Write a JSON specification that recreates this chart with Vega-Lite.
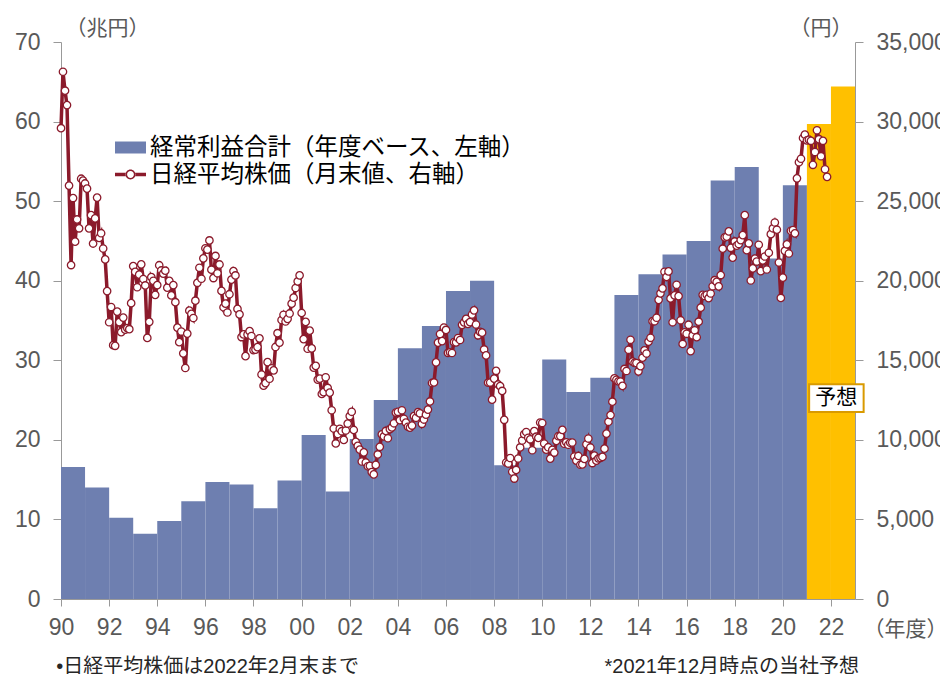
{
"$schema": "https://vega.github.io/schema/vega-lite/v6.json",
"width": 794, "height": 557,
"autosize": {"type": "none"},
"padding": {"left": 61, "top": 42, "right": 85, "bottom": 75},
"background": "white",
"config": {"view": {"stroke": null}, "font": "Liberation Sans, Noto Sans CJK JP", "axis": {"grid": false}},
"layer": [
{
"layer": [
{
"data": {"values": [
{"s":"1990-04","e":"1991-04","p":16.6,"k":"実績"},
{"s":"1991-04","e":"1992-04","p":14.0,"k":"実績"},
{"s":"1992-04","e":"1993-04","p":10.2,"k":"実績"},
{"s":"1993-04","e":"1994-04","p":8.2,"k":"実績"},
{"s":"1994-04","e":"1995-04","p":9.8,"k":"実績"},
{"s":"1995-04","e":"1996-04","p":12.3,"k":"実績"},
{"s":"1996-04","e":"1997-04","p":14.7,"k":"実績"},
{"s":"1997-04","e":"1998-04","p":14.4,"k":"実績"},
{"s":"1998-04","e":"1999-04","p":11.4,"k":"実績"},
{"s":"1999-04","e":"2000-04","p":14.9,"k":"実績"},
{"s":"2000-04","e":"2001-04","p":20.6,"k":"実績"},
{"s":"2001-04","e":"2002-04","p":13.5,"k":"実績"},
{"s":"2002-04","e":"2003-04","p":20.1,"k":"実績"},
{"s":"2003-04","e":"2004-04","p":25.0,"k":"実績"},
{"s":"2004-04","e":"2005-04","p":31.5,"k":"実績"},
{"s":"2005-04","e":"2006-04","p":34.3,"k":"実績"},
{"s":"2006-04","e":"2007-04","p":38.7,"k":"実績"},
{"s":"2007-04","e":"2008-04","p":40.0,"k":"実績"},
{"s":"2008-04","e":"2009-04","p":16.8,"k":"実績"},
{"s":"2009-04","e":"2010-04","p":19.0,"k":"実績"},
{"s":"2010-04","e":"2011-04","p":30.1,"k":"実績"},
{"s":"2011-04","e":"2012-04","p":26.0,"k":"実績"},
{"s":"2012-04","e":"2013-04","p":27.8,"k":"実績"},
{"s":"2013-04","e":"2014-04","p":38.2,"k":"実績"},
{"s":"2014-04","e":"2015-04","p":40.8,"k":"実績"},
{"s":"2015-04","e":"2016-04","p":43.3,"k":"実績"},
{"s":"2016-04","e":"2017-04","p":45.0,"k":"実績"},
{"s":"2017-04","e":"2018-04","p":52.6,"k":"実績"},
{"s":"2018-04","e":"2019-04","p":54.3,"k":"実績"},
{"s":"2019-04","e":"2020-04","p":42.8,"k":"実績"},
{"s":"2020-04","e":"2021-04","p":52.0,"k":"実績"},
{"s":"2021-04","e":"2022-04","p":59.7,"k":"予想"},
{"s":"2022-04","e":"2023-04","p":64.4,"k":"予想"}
], "format": {"parse": {"s": "utc:'%Y-%m'", "e": "utc:'%Y-%m'"}}},
"mark": {"type": "rect", "strokeWidth": 0},
"encoding": {
"x": {"field": "s", "type": "temporal",
 "scale": {"type": "utc", "domain": [{"year":1990,"month":4,"date":1,"utc":true},{"year":2023,"month":4,"date":1,"utc":true}]},
 "axis": {"values": [
 {"year":1990,"month":4,"date":1,"utc":true},{"year":1991,"month":4,"date":1,"utc":true},{"year":1992,"month":4,"date":1,"utc":true},{"year":1993,"month":4,"date":1,"utc":true},{"year":1994,"month":4,"date":1,"utc":true},{"year":1995,"month":4,"date":1,"utc":true},{"year":1996,"month":4,"date":1,"utc":true},{"year":1997,"month":4,"date":1,"utc":true},{"year":1998,"month":4,"date":1,"utc":true},{"year":1999,"month":4,"date":1,"utc":true},{"year":2000,"month":4,"date":1,"utc":true},{"year":2001,"month":4,"date":1,"utc":true},{"year":2002,"month":4,"date":1,"utc":true},{"year":2003,"month":4,"date":1,"utc":true},{"year":2004,"month":4,"date":1,"utc":true},{"year":2005,"month":4,"date":1,"utc":true},{"year":2006,"month":4,"date":1,"utc":true},{"year":2007,"month":4,"date":1,"utc":true},{"year":2008,"month":4,"date":1,"utc":true},{"year":2009,"month":4,"date":1,"utc":true},{"year":2010,"month":4,"date":1,"utc":true},{"year":2011,"month":4,"date":1,"utc":true},{"year":2012,"month":4,"date":1,"utc":true},{"year":2013,"month":4,"date":1,"utc":true},{"year":2014,"month":4,"date":1,"utc":true},{"year":2015,"month":4,"date":1,"utc":true},{"year":2016,"month":4,"date":1,"utc":true},{"year":2017,"month":4,"date":1,"utc":true},{"year":2018,"month":4,"date":1,"utc":true},{"year":2019,"month":4,"date":1,"utc":true},{"year":2020,"month":4,"date":1,"utc":true},{"year":2021,"month":4,"date":1,"utc":true},{"year":2022,"month":4,"date":1,"utc":true},{"year":2023,"month":4,"date":1,"utc":true}],
 "labelExpr": "utcyear(datum.value) % 2 == 0 ? utcFormat(datum.value, '%y') : ''",
 "labelFlush": false, "labelOverlap": false, "labelBound": false,
 "labelFontSize": 23, "labelColor": "#595959", "labelPadding": 10,
 "tickSize": 7, "tickColor": "#999999", "domainColor": "#999999",
 "title": "（年度）", "titleAngle": 0, "titleX": 802, "titleY": 30, "titleAlign": "left", "titleBaseline": "middle",
 "titleFontSize": 21, "titleFontWeight": "normal", "titleColor": "#595959", "titleFont": "Noto Sans CJK JP"}},
"x2": {"field": "e"},
"y": {"field": "p", "type": "quantitative", "scale": {"domain": [0, 70]},
 "axis": {"orient": "left", "values": [0,10,20,30,40,50,60,70],
 "labelFontSize": 23, "labelColor": "#595959", "labelPadding": 13,
 "tickSize": 8, "tickColor": "#999999", "domainColor": "#999999",
 "title": "（兆円）", "titleAngle": 0, "titleX": 4, "titleY": -14, "titleAlign": "left", "titleBaseline": "middle",
 "titleFontSize": 21, "titleFontWeight": "normal", "titleColor": "#595959", "titleFont": "Noto Sans CJK JP"}},
"y2": {"datum": 0},
"fill": {"field": "k", "type": "nominal",
 "scale": {"domain": ["実績", "予想"], "range": ["#6E7FB0", "#FFC000"]},
 "legend": {"orient": "none", "legendX": 54, "legendY": 90, "title": null, "values": ["実績"],
  "labelExpr": "'経常利益合計（年度ベース、左軸）'",
  "symbolType": "M-1,-0.387H1V0.387H-1Z", "symbolSize": 961, "symbolStrokeWidth": 0, "symbolOpacity": 1,
  "labelFontSize": 23.5, "labelColor": "#000000", "labelFont": "Noto Sans CJK JP", "labelLimit": 600, "padding": 0}}
}
},
{
"data": {"values": [{}]},
"mark": {"type": "rect", "fill": "white", "stroke": "#D99A00", "strokeWidth": 2},
"encoding": {
"x": {"datum": {"year":2021,"month":5,"date":5,"utc":true}, "type": "temporal"},
"x2": {"datum": {"year":2023,"month":8,"date":10,"utc":true}},
"y": {"datum": 27.0, "type": "quantitative", "scale": {"domain": [0, 70]}},
"y2": {"datum": 23.5}
}
},
{
"data": {"values": [{}]},
"mark": {"type": "text", "align": "center", "baseline": "middle", "fontSize": 21, "font": "Noto Sans CJK JP", "color": "#000000"},
"encoding": {
"x": {"datum": {"year":2022,"month":6,"date":20,"utc":true}, "type": "temporal"},
"y": {"datum": 25.25, "type": "quantitative", "scale": {"domain": [0, 70]}},
"text": {"value": "予想"}
}
},
{
"data": {"values": [{}]},
"mark": {"type": "text", "align": "left", "baseline": "middle", "fontSize": 20, "color": "#262626"},
"encoding": {
"x": {"datum": {"year":1990,"month":1,"date":20,"utc":true}, "type": "temporal"},
"y": {"datum": -8.6, "type": "quantitative", "scale": {"domain": [0, 70]}},
"text": {"value": "•日経平均株価は2022年2月末まで"}
}
},
{
"data": {"values": [{}]},
"mark": {"type": "text", "align": "right", "baseline": "middle", "fontSize": 20, "color": "#262626"},
"encoding": {
"x": {"datum": {"year":2023,"month":6,"date":1,"utc":true}, "type": "temporal"},
"y": {"datum": -8.6, "type": "quantitative", "scale": {"domain": [0, 70]}},
"text": {"value": "*2021年12月時点の当社予想"}
}
}
]
},
{
"data": {"values": [
{"d":"1990-04","v":29584},{"d":"1990-05","v":33131},{"d":"1990-06","v":31940},{"d":"1990-07","v":31036},{"d":"1990-08","v":25978},{"d":"1990-09","v":20984},{"d":"1990-10","v":25194},{"d":"1990-11","v":22455},{"d":"1990-12","v":23849},
{"d":"1991-01","v":23293},{"d":"1991-02","v":26409},{"d":"1991-03","v":26292},{"d":"1991-04","v":26111},{"d":"1991-05","v":25790},{"d":"1991-06","v":23291},{"d":"1991-07","v":24121},{"d":"1991-08","v":22336},{"d":"1991-09","v":23916},{"d":"1991-10","v":25222},{"d":"1991-11","v":22687},{"d":"1991-12","v":22984},
{"d":"1992-01","v":22023},{"d":"1992-02","v":21339},{"d":"1992-03","v":19346},{"d":"1992-04","v":17391},{"d":"1992-05","v":18348},{"d":"1992-06","v":15952},{"d":"1992-07","v":15910},{"d":"1992-08","v":18061},{"d":"1992-09","v":17399},{"d":"1992-10","v":16768},{"d":"1992-11","v":17684},{"d":"1992-12","v":16925},
{"d":"1993-01","v":17024},{"d":"1993-02","v":16953},{"d":"1993-03","v":18591},{"d":"1993-04","v":20919},{"d":"1993-05","v":20552},{"d":"1993-06","v":19590},{"d":"1993-07","v":20380},{"d":"1993-08","v":21027},{"d":"1993-09","v":20106},{"d":"1993-10","v":19703},{"d":"1993-11","v":16408},{"d":"1993-12","v":17417},
{"d":"1994-01","v":20229},{"d":"1994-02","v":19997},{"d":"1994-03","v":19112},{"d":"1994-04","v":19725},{"d":"1994-05","v":20974},{"d":"1994-06","v":20644},{"d":"1994-07","v":20449},{"d":"1994-08","v":20629},{"d":"1994-09","v":19564},{"d":"1994-10","v":19990},{"d":"1994-11","v":19076},{"d":"1994-12","v":19723},
{"d":"1995-01","v":18650},{"d":"1995-02","v":17053},{"d":"1995-03","v":16140},{"d":"1995-04","v":16807},{"d":"1995-05","v":15437},{"d":"1995-06","v":14517},{"d":"1995-07","v":16678},{"d":"1995-08","v":18117},{"d":"1995-09","v":17913},{"d":"1995-10","v":17655},{"d":"1995-11","v":18744},{"d":"1995-12","v":19868},
{"d":"1996-01","v":20813},{"d":"1996-02","v":20125},{"d":"1996-03","v":21407},{"d":"1996-04","v":22041},{"d":"1996-05","v":21956},{"d":"1996-06","v":22531},{"d":"1996-07","v":20693},{"d":"1996-08","v":20167},{"d":"1996-09","v":21556},{"d":"1996-10","v":20467},{"d":"1996-11","v":21020},{"d":"1996-12","v":19361},
{"d":"1997-01","v":18330},{"d":"1997-02","v":18557},{"d":"1997-03","v":18003},{"d":"1997-04","v":19151},{"d":"1997-05","v":20069},{"d":"1997-06","v":20605},{"d":"1997-07","v":20331},{"d":"1997-08","v":18229},{"d":"1997-09","v":17888},{"d":"1997-10","v":16459},{"d":"1997-11","v":16628},{"d":"1997-12","v":15259},
{"d":"1998-01","v":16628},{"d":"1998-02","v":16831},{"d":"1998-03","v":16527},{"d":"1998-04","v":15641},{"d":"1998-05","v":15671},{"d":"1998-06","v":15830},{"d":"1998-07","v":16379},{"d":"1998-08","v":14108},{"d":"1998-09","v":13406},{"d":"1998-10","v":13565},{"d":"1998-11","v":14884},{"d":"1998-12","v":13842},
{"d":"1999-01","v":14499},{"d":"1999-02","v":14368},{"d":"1999-03","v":15837},{"d":"1999-04","v":16702},{"d":"1999-05","v":16112},{"d":"1999-06","v":17530},{"d":"1999-07","v":17862},{"d":"1999-08","v":17437},{"d":"1999-09","v":17605},{"d":"1999-10","v":17942},{"d":"1999-11","v":18558},{"d":"1999-12","v":18934},
{"d":"2000-01","v":19540},{"d":"2000-02","v":19960},{"d":"2000-03","v":20337},{"d":"2000-04","v":17974},{"d":"2000-05","v":16332},{"d":"2000-06","v":17411},{"d":"2000-07","v":15727},{"d":"2000-08","v":16861},{"d":"2000-09","v":15747},{"d":"2000-10","v":14540},{"d":"2000-11","v":14649},{"d":"2000-12","v":13786},
{"d":"2001-01","v":13844},{"d":"2001-02","v":12884},{"d":"2001-03","v":12999},{"d":"2001-04","v":13934},{"d":"2001-05","v":13262},{"d":"2001-06","v":12969},{"d":"2001-07","v":11861},{"d":"2001-08","v":10714},{"d":"2001-09","v":9775},{"d":"2001-10","v":10367},{"d":"2001-11","v":10697},{"d":"2001-12","v":10543},
{"d":"2002-01","v":9998},{"d":"2002-02","v":10588},{"d":"2002-03","v":11025},{"d":"2002-04","v":11493},{"d":"2002-05","v":11764},{"d":"2002-06","v":10622},{"d":"2002-07","v":9878},{"d":"2002-08","v":9619},{"d":"2002-09","v":9383},{"d":"2002-10","v":8640},{"d":"2002-11","v":9216},{"d":"2002-12","v":8579},
{"d":"2003-01","v":8340},{"d":"2003-02","v":8363},{"d":"2003-03","v":7973},{"d":"2003-04","v":7831},{"d":"2003-05","v":8425},{"d":"2003-06","v":9083},{"d":"2003-07","v":9563},{"d":"2003-08","v":10344},{"d":"2003-09","v":10219},{"d":"2003-10","v":10560},{"d":"2003-11","v":10101},{"d":"2003-12","v":10677},
{"d":"2004-01","v":10784},{"d":"2004-02","v":11042},{"d":"2004-03","v":11715},{"d":"2004-04","v":11762},{"d":"2004-05","v":11236},{"d":"2004-06","v":11859},{"d":"2004-07","v":11326},{"d":"2004-08","v":11082},{"d":"2004-09","v":10824},{"d":"2004-10","v":10771},{"d":"2004-11","v":10899},{"d":"2004-12","v":11489},
{"d":"2005-01","v":11388},{"d":"2005-02","v":11741},{"d":"2005-03","v":11669},{"d":"2005-04","v":11009},{"d":"2005-05","v":11277},{"d":"2005-06","v":11584},{"d":"2005-07","v":11900},{"d":"2005-08","v":12414},{"d":"2005-09","v":13574},{"d":"2005-10","v":13607},{"d":"2005-11","v":14872},{"d":"2005-12","v":16111},
{"d":"2006-01","v":16650},{"d":"2006-02","v":16205},{"d":"2006-03","v":17060},{"d":"2006-04","v":16907},{"d":"2006-05","v":15467},{"d":"2006-06","v":15505},{"d":"2006-07","v":15457},{"d":"2006-08","v":16141},{"d":"2006-09","v":16128},{"d":"2006-10","v":16399},{"d":"2006-11","v":16274},{"d":"2006-12","v":17226},
{"d":"2007-01","v":17383},{"d":"2007-02","v":17604},{"d":"2007-03","v":17288},{"d":"2007-04","v":17400},{"d":"2007-05","v":17876},{"d":"2007-06","v":18138},{"d":"2007-07","v":17249},{"d":"2007-08","v":16569},{"d":"2007-09","v":16786},{"d":"2007-10","v":16738},{"d":"2007-11","v":15681},{"d":"2007-12","v":15308},
{"d":"2008-01","v":13592},{"d":"2008-02","v":13603},{"d":"2008-03","v":12526},{"d":"2008-04","v":13850},{"d":"2008-05","v":14339},{"d":"2008-06","v":13481},{"d":"2008-07","v":13377},{"d":"2008-08","v":13073},{"d":"2008-09","v":11260},{"d":"2008-10","v":8577},{"d":"2008-11","v":8512},{"d":"2008-12","v":8860},
{"d":"2009-01","v":7994},{"d":"2009-02","v":7568},{"d":"2009-03","v":8110},{"d":"2009-04","v":8828},{"d":"2009-05","v":9523},{"d":"2009-06","v":9958},{"d":"2009-07","v":10357},{"d":"2009-08","v":10493},{"d":"2009-09","v":10133},{"d":"2009-10","v":10035},{"d":"2009-11","v":9346},{"d":"2009-12","v":10546},
{"d":"2010-01","v":10198},{"d":"2010-02","v":10126},{"d":"2010-03","v":11090},{"d":"2010-04","v":11057},{"d":"2010-05","v":9769},{"d":"2010-06","v":9383},{"d":"2010-07","v":9537},{"d":"2010-08","v":8824},{"d":"2010-09","v":9369},{"d":"2010-10","v":9202},{"d":"2010-11","v":9937},{"d":"2010-12","v":10229},
{"d":"2011-01","v":10238},{"d":"2011-02","v":10624},{"d":"2011-03","v":9755},{"d":"2011-04","v":9850},{"d":"2011-05","v":9694},{"d":"2011-06","v":9816},{"d":"2011-07","v":9833},{"d":"2011-08","v":8955},{"d":"2011-09","v":8700},{"d":"2011-10","v":8988},{"d":"2011-11","v":8435},{"d":"2011-12","v":8455},
{"d":"2012-01","v":8803},{"d":"2012-02","v":9723},{"d":"2012-03","v":10084},{"d":"2012-04","v":9521},{"d":"2012-05","v":8543},{"d":"2012-06","v":9007},{"d":"2012-07","v":8695},{"d":"2012-08","v":8840},{"d":"2012-09","v":8870},{"d":"2012-10","v":8928},{"d":"2012-11","v":9446},{"d":"2012-12","v":10395},
{"d":"2013-01","v":11139},{"d":"2013-02","v":11559},{"d":"2013-03","v":12398},{"d":"2013-04","v":13861},{"d":"2013-05","v":13775},{"d":"2013-06","v":13677},{"d":"2013-07","v":13668},{"d":"2013-08","v":13389},{"d":"2013-09","v":14456},{"d":"2013-10","v":14328},{"d":"2013-11","v":15662},{"d":"2013-12","v":16291},
{"d":"2014-01","v":14915},{"d":"2014-02","v":14841},{"d":"2014-03","v":14828},{"d":"2014-04","v":14304},{"d":"2014-05","v":14632},{"d":"2014-06","v":15162},{"d":"2014-07","v":15621},{"d":"2014-08","v":15425},{"d":"2014-09","v":16174},{"d":"2014-10","v":16414},{"d":"2014-11","v":17460},{"d":"2014-12","v":17451},
{"d":"2015-01","v":17674},{"d":"2015-02","v":18798},{"d":"2015-03","v":19207},{"d":"2015-04","v":19520},{"d":"2015-05","v":20563},{"d":"2015-06","v":20236},{"d":"2015-07","v":20585},{"d":"2015-08","v":18890},{"d":"2015-09","v":17388},{"d":"2015-10","v":19083},{"d":"2015-11","v":19747},{"d":"2015-12","v":19034},
{"d":"2016-01","v":17518},{"d":"2016-02","v":16027},{"d":"2016-03","v":16759},{"d":"2016-04","v":16666},{"d":"2016-05","v":17235},{"d":"2016-06","v":15576},{"d":"2016-07","v":16569},{"d":"2016-08","v":16887},{"d":"2016-09","v":16450},{"d":"2016-10","v":17425},{"d":"2016-11","v":18308},{"d":"2016-12","v":19114},
{"d":"2017-01","v":19041},{"d":"2017-02","v":19119},{"d":"2017-03","v":18909},{"d":"2017-04","v":19197},{"d":"2017-05","v":19651},{"d":"2017-06","v":20033},{"d":"2017-07","v":19925},{"d":"2017-08","v":19646},{"d":"2017-09","v":20356},{"d":"2017-10","v":22012},{"d":"2017-11","v":22725},{"d":"2017-12","v":22765},
{"d":"2018-01","v":23098},{"d":"2018-02","v":22068},{"d":"2018-03","v":21454},{"d":"2018-04","v":22468},{"d":"2018-05","v":22202},{"d":"2018-06","v":22305},{"d":"2018-07","v":22554},{"d":"2018-08","v":22865},{"d":"2018-09","v":24120},{"d":"2018-10","v":21920},{"d":"2018-11","v":22351},{"d":"2018-12","v":20015},
{"d":"2019-01","v":20773},{"d":"2019-02","v":21385},{"d":"2019-03","v":21206},{"d":"2019-04","v":22259},{"d":"2019-05","v":20601},{"d":"2019-06","v":21276},{"d":"2019-07","v":21522},{"d":"2019-08","v":20704},{"d":"2019-09","v":21756},{"d":"2019-10","v":22927},{"d":"2019-11","v":23294},{"d":"2019-12","v":23657},
{"d":"2020-01","v":23205},{"d":"2020-02","v":21143},{"d":"2020-03","v":18917},{"d":"2020-04","v":20194},{"d":"2020-05","v":21878},{"d":"2020-06","v":22288},{"d":"2020-07","v":21710},{"d":"2020-08","v":23140},{"d":"2020-09","v":23185},{"d":"2020-10","v":22977},{"d":"2020-11","v":26434},{"d":"2020-12","v":27444},
{"d":"2021-01","v":27663},{"d":"2021-02","v":28966},{"d":"2021-03","v":29179},{"d":"2021-04","v":28813},{"d":"2021-05","v":28860},{"d":"2021-06","v":28792},{"d":"2021-07","v":27284},{"d":"2021-08","v":28090},{"d":"2021-09","v":29453},{"d":"2021-10","v":28893},{"d":"2021-11","v":27822},{"d":"2021-12","v":28792},
{"d":"2022-01","v":27002},{"d":"2022-02","v":26527}
], "format": {"parse": {"d": "utc:'%Y-%m'"}}},
"mark": {"type": "line", "strokeWidth": 3.5, "point": {"filled": true, "fill": "white", "stroke": "#8B1A2B", "strokeWidth": 1.3, "size": 55}},
"encoding": {
"x": {"field": "d", "type": "temporal"},
"y": {"field": "v", "type": "quantitative", "scale": {"domain": [0, 35000]},
 "axis": {"orient": "right", "values": [0,5000,10000,15000,20000,25000,30000,35000], "format": ",d",
 "labelFontSize": 23, "labelColor": "#595959", "labelPadding": 13,
 "tickSize": 8, "tickColor": "#999999", "domainColor": "#999999",
 "title": "（円）", "titleAngle": 0, "titleX": -3, "titleY": -14, "titleAlign": "right", "titleBaseline": "middle",
 "titleFontSize": 21, "titleFontWeight": "normal", "titleColor": "#595959", "titleFont": "Noto Sans CJK JP"}},
"stroke": {"datum": "日経平均株価（月末値、右軸）", "type": "nominal", "scale": {"range": ["#8B1A2B"]},
 "legend": {"orient": "none", "legendX": 54, "legendY": 117, "title": null,
  "symbolType": "M-1,-0.11H-0.3V0.11H-1Z M0.3,-0.11H1V0.11H0.3Z M-0.32,0A0.32,0.32,0,1,0,0.32,0A0.32,0.32,0,1,0,-0.32,0Z M-0.22,0A0.22,0.22,0,1,1,0.22,0A0.22,0.22,0,1,1,-0.22,0Z",
  "symbolSize": 961, "symbolFillColor": "#8B1A2B", "symbolStrokeWidth": 0,
  "labelFontSize": 23.5, "labelColor": "#000000", "labelFont": "Noto Sans CJK JP", "labelLimit": 600, "padding": 0,
  "encode": {"symbols": {"update": {"fill": {"value": "#8B1A2B"}, "strokeWidth": {"value": 0}, "opacity": {"value": 1}}}}}}
}
}
],
"resolve": {"scale": {"y": "independent"}}
}
